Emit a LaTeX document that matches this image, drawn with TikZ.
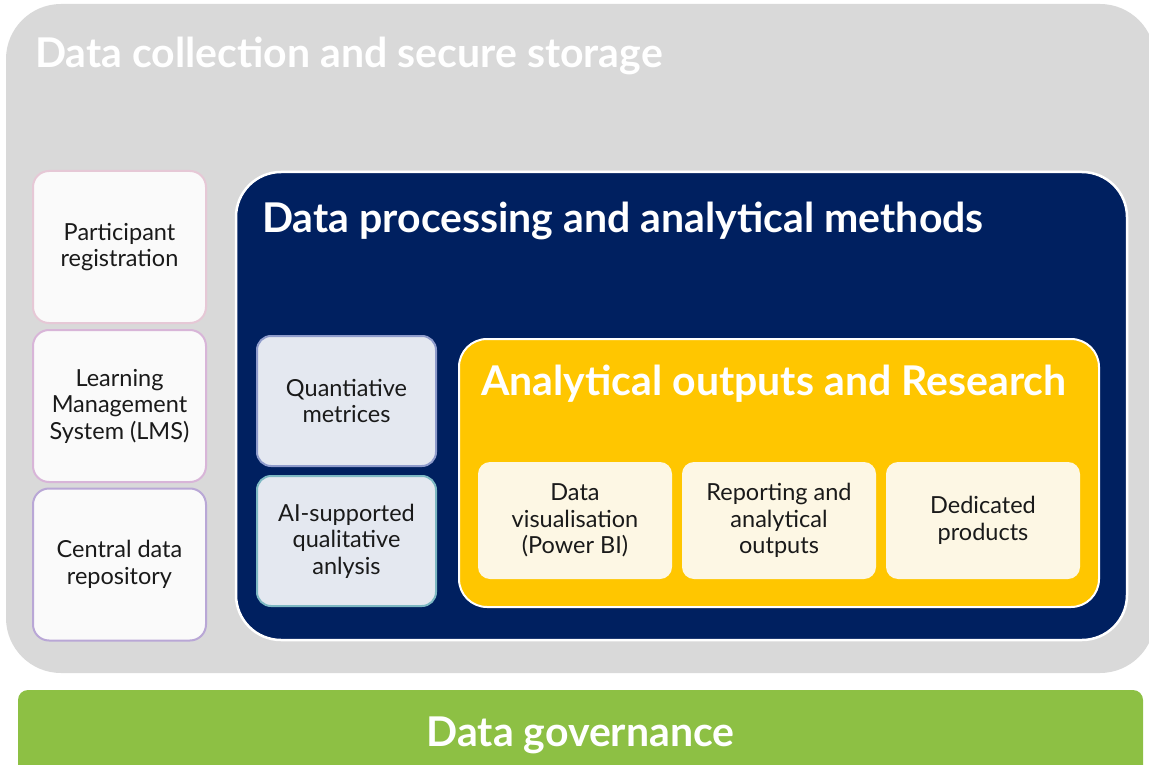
\documentclass[tikz,border=0pt]{standalone}
\usepackage{fontspec}
\setmainfont{Lato}
\usepackage{xcolor}

\definecolor{storegray}{HTML}{D9D9D9}
\definecolor{procnavy}{HTML}{002060}
\definecolor{outyellow}{HTML}{FFC600}
\definecolor{outcream}{HTML}{FDF7E4}
\definecolor{govgreen}{HTML}{8DC044}
\definecolor{srcfill}{HTML}{FAFAFA}
\definecolor{srcpink}{HTML}{E6C8D6}
\definecolor{srcmauve}{HTML}{D8B5D8}
\definecolor{srclilac}{HTML}{B9A7D6}
\definecolor{methfill}{HTML}{E4E8F0}
\definecolor{methblue}{HTML}{8E9BCB}
\definecolor{methteal}{HTML}{7DB8C3}
\definecolor{inktext}{HTML}{1A1A1A}

\tikzset{
  layer/.style={rounded corners=#1, inner sep=0pt},
  title/.style={text=white, font=\fontsize{41}{48}\selectfont\bfseries, anchor=base west, inner sep=0pt},
  srcbox/.style={draw=#1, line width=2pt, fill=srcfill, rounded corners=16pt,
    minimum width=173pt, minimum height=152pt, align=center, text=inktext,
    font=\fontsize{23.5}{26.5}\selectfont},
  methbox/.style={draw=#1, line width=2pt, fill=methfill, rounded corners=14pt,
    minimum width=179pt, minimum height=130pt, align=center, text=inktext,
    font=\fontsize{23.5}{26.5}\selectfont},
  outbox/.style={fill=outcream, rounded corners=12pt,
    minimum width=194pt, minimum height=117pt, align=center, text=inktext,
    font=\fontsize{23.5}{26.5}\selectfont},
}

\begin{document}
\begin{tikzpicture}[x=1pt,y=-1pt]
	\useasboundingbox (0,0) rectangle (1149,765);
	% outer layer
	\node[layer=55pt, fill=storegray, minimum width=1149pt, minimum height=669pt] (store) at (580.5,338.5) {};
	\node[title] (storetitle) at (35,68) {Data collection and secure storage};
	% governance bar
	\node[layer=10pt, fill=govgreen, minimum width=1125pt, minimum height=100pt] (gov) at (580.5,740) {};
	\node[title, anchor=base] (govtitle) at (580.5,746) {Data governance};
	% sources
	\node[srcbox=srcpink] (reg) at (119.5,247) {Participant\\registration};
	\node[srcbox=srcmauve] (lms) at (119.5,406) {Learning\\Management\\System (LMS)};
	\node[srcbox=srclilac] (repo) at (119.5,564.5) {Central data\\repository};
	% processing layer
	\node[layer=45pt, draw=white, line width=2.5pt, fill=procnavy, minimum width=891pt, minimum height=468pt] (proc) at (681.5,406) {};
	\node[title] (proctitle) at (262,233) {Data processing and analytical methods};
	\node[methbox=methblue] (quant) at (346.5,401) {Quantiative\\metrices};
	\node[methbox=methteal] (qual) at (346.5,541) {AI-supported\\qualitative\\anlysis};
	% outputs layer
	\node[layer=28pt, draw=white, line width=2pt, fill=outyellow, minimum width=640pt, minimum height=268pt] (out) at (779,473) {};
	\node[title] (outtitle) at (481,395) {Analytical outputs and Research};
	\node[outbox] (viz) at (575,520.5) {Data\\visualisation\\(Power BI)};
	\node[outbox] (report) at (779,520.5) {Reporting and\\analytical\\outputs};
	\node[outbox] (prod) at (983,520.5) {Dedicated\\products};
\end{tikzpicture}
\end{document}
